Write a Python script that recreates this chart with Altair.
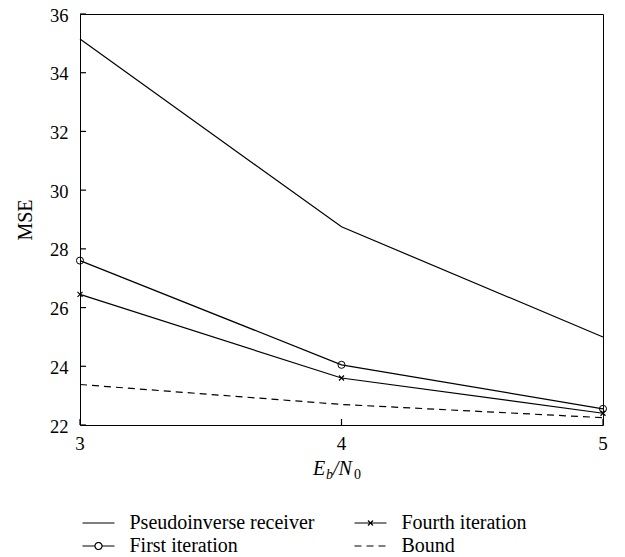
import altair as alt
import pandas as pd

# ---- data ----
ebn0 = [3, 4, 5]
pseudo = [35.15, 28.75, 25.0]
first_it = [27.6, 24.05, 22.55]
fourth_it = [26.45, 23.6, 22.4]
bound = [23.38, 22.7, 22.25]
# legend fills column by column: col 1 = Pseudoinverse, First; col 2 = Fourth, Bound
series_names = ["Pseudoinverse receiver", "First iteration", "Fourth iteration", "Bound"]
series_values = [pseudo, first_it, fourth_it, bound]
x_ticks = [3, 4, 5]
y_ticks = [22, 24, 26, 28, 30, 32, 34, 36]

rows = []
for name, vals in zip(series_names, series_values):
    for x, v in zip(ebn0, vals):
        rows.append({"ebn0": x, "mse": v, "series": name})
df = pd.DataFrame(rows)

FONT = "Liberation Serif"
W, H = 523, 411

xs = alt.Scale(domain=[3, 5], nice=False, zero=False)
ys = alt.Scale(domain=[22, 36], nice=False, zero=False)

x_axis = alt.Axis(values=x_ticks, ticks=False, domain=False, grid=False,
                  labels=False, title=None)
y_axis = alt.Axis(values=y_ticks, ticks=False, domain=False, grid=False,
                  labelPadding=12, title="MSE", titleFontSize=20, titleFont=FONT,
                  titleFontWeight="normal", titleColor="black", titlePadding=14,
                  labelFontSize=18.5, labelFont=FONT, labelColor="black", format="d",
                  labelFlush=False, labelOverlap=False,
                  labelBaseline="alphabetic", labelOffset=7)

X = alt.X("ebn0:Q", scale=xs, axis=x_axis)
Y = alt.Y("mse:Q", scale=ys, axis=y_axis)

base = alt.Chart(df)

solid = base.transform_filter(alt.datum.series != "Bound").mark_line(
    color="black", strokeWidth=1.2).encode(x=X, y=Y, detail="series:N")
dashed = base.transform_filter(alt.datum.series == "Bound").mark_line(
    color="black", strokeWidth=1.2, strokeDash=[7, 5]).encode(x=X, y=Y)

circles = base.transform_filter(alt.datum.series == "First iteration").mark_point(
    shape="circle", size=50, filled=False, color="black", strokeWidth=1, opacity=1
).encode(x=X, y=Y)
crosses = base.transform_filter(alt.datum.series == "Fourth iteration").mark_point(
    shape="M-1,-1L1,1M-1,1L1,-1", size=25, filled=False, color="black",
    strokeWidth=1.2, opacity=1
).encode(x=X, y=Y)

# inward ticks and x labels drawn from the tick lists
ytick_df = pd.DataFrame({"mse": y_ticks})
xtick_df = pd.DataFrame({"ebn0": x_ticks})
yticks = alt.Chart(ytick_df).mark_tick(
    color="black", orient="horizontal", size=6, thickness=1.2, opacity=1
).encode(y=Y, x=alt.value(3))
xticks = alt.Chart(xtick_df).mark_tick(
    color="black", orient="vertical", size=6, thickness=1.2, opacity=1
).encode(x=X, y=alt.value(H - 3))
xlabels = alt.Chart(xtick_df).mark_text(
    font=FONT, fontSize=19, color="black", align="center", baseline="alphabetic"
).encode(x=X, y=alt.value(H + 25), text=alt.Text("ebn0:Q", format="d"))

# legend (symbols only, no data drawn)
paths = [
    "M-1.6,0H1.6",
    "M-1.6,0H-0.35M0.35,0H1.6M-0.35,0A0.35,0.35 0 1 0 0.35,0A0.35,0.35 0 1 0 -0.35,0",
    "M-1.6,0H1.6M-0.25,-0.25L0.25,0.25M-0.25,0.25L0.25,-0.25",
    "M-1.6,0H1.6",
]
leg = alt.Legend(orient="none", legendX=7.5, legendY=498, columns=2, title=None,
                 labelFont=FONT, labelFontSize=20, labelColor="black",
                 symbolSize=400, symbolStrokeWidth=1.2, symbolStrokeColor="black",
                 symbolFillColor="transparent", rowPadding=2, columnPadding=37,
                 labelOffset=20, padding=0, labelLimit=400)
legend_layer = base.transform_filter("false").mark_point(
    filled=False, color="black", strokeWidth=1.2, opacity=1).encode(
    shape=alt.Shape("series:N", scale=alt.Scale(domain=series_names, range=paths), legend=leg),
    strokeDash=alt.StrokeDash("series:N", scale=alt.Scale(domain=series_names,
                              range=[[1, 0], [1, 0], [1, 0], [7, 5]]), legend=leg),
)

# x-axis title E_b/N_0 built from pieces
one = alt.InlineData(values=[{"a": 1}])
def piece(txt, x, y, size, italic=True):
    return alt.Chart(one).mark_text(
        text=txt, font=FONT, fontSize=size, fontStyle="italic" if italic else "normal",
        align="left", baseline="alphabetic", color="black"
    ).encode(x=alt.value(x), y=alt.value(y))

title_parts = [
    piece("E", 233, 461, 20),
    piece("b", 246, 465, 14),
    piece("/N", 253, 461, 20),
    piece("0", 274, 465, 14, italic=False),
]

chart = alt.layer(
    solid, dashed, circles, crosses, yticks, xticks, xlabels, legend_layer, *title_parts
).properties(
    width=W, height=H,
    autosize=alt.AutoSizeParams(type="none"),
    padding={"left": 72, "top": 6, "right": 14, "bottom": 130},
    background="white",
).configure_view(stroke="black", strokeWidth=1)

chart.save("out.html", embed_options={"renderer": "svg", "actions": False})
